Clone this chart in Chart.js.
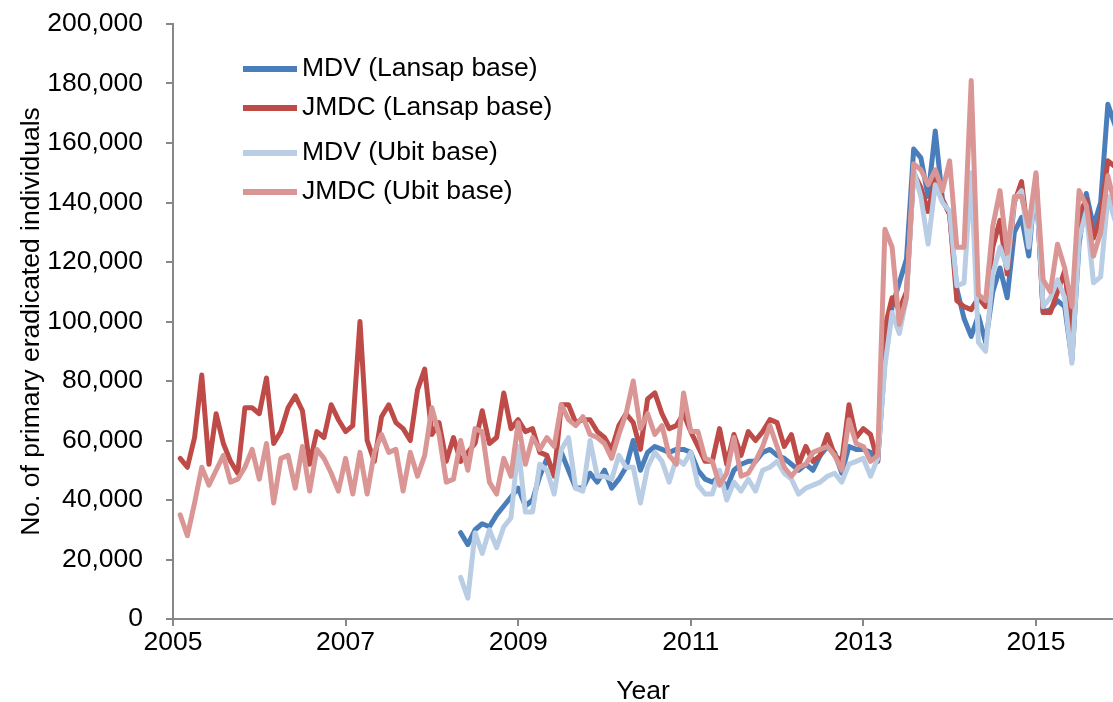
<!DOCTYPE html>
<html>
<head>
<meta charset="utf-8">
<script src="https://cdn.jsdelivr.net/npm/chart.js@4"></script>
<style>
  html, body { margin: 0; padding: 0; background: #fff; }
  canvas { display: block; }
</style>
</head>
<body>
<canvas id="chart" width="1113" height="702"></canvas>
<script>
// monthly counts in thousands, first value = Jan 2005
const jmdcLansap = [
  54, 51, 61, 82, 52, 69, 59, 53, 49, 71, 71, 69,
  81, 59, 63, 71, 75, 70, 52, 63, 61, 72, 67, 63,
  65, 100, 60, 53, 68, 72, 66, 64, 60, 77, 84, 62,
  66, 53, 61, 53, 56, 59, 70, 59, 61, 76, 64, 67,
  63, 64, 56, 55, 48, 72, 72, 66, 67, 67, 63, 61,
  57, 65, 69, 66, 57, 74, 76, 69, 64, 65, 69, 63,
  58, 53, 53, 64, 52, 62, 55, 63, 60, 63, 67, 66,
  58, 62, 52, 58, 53, 55, 62, 55, 53, 72, 61, 64,
  62, 53, 98, 108, 104, 110, 150, 145, 137, 148, 141, 136,
  107, 105, 104, 108, 105, 125, 134, 116, 140, 147, 127, 148,
  103, 103, 110, 117, 96, 136, 141, 128, 135, 154, 152, 150
];
const jmdcUbit = [
  35, 28, 39, 51, 45, 50, 55, 46, 47, 51, 57, 47,
  59, 39, 54, 55, 44, 58, 43, 57, 54, 49, 43, 54,
  42, 56, 42, 56, 62, 56, 57, 43, 56, 48, 55, 71,
  62, 46, 47, 60, 50, 64, 63, 46, 42, 54, 48, 66,
  52, 61, 57, 61, 58, 72, 67, 65, 68, 62, 61, 59,
  54, 62, 69, 80, 64, 69, 62, 65, 55, 52, 76, 63,
  63, 54, 53, 45, 49, 61, 48, 49, 53, 58, 65, 58,
  51, 48, 51, 52, 56, 57, 58, 55, 50, 67, 59, 58,
  53, 55, 131, 125, 99, 108, 153, 151, 146, 151, 144, 154,
  125, 125, 181, 109, 107, 132, 144, 123, 142, 142, 132, 150,
  114, 110, 126, 118, 105, 144, 139, 122, 130, 149, 139, 142
];
// MDV series start in Apr 2008
const mdvStart = 39;
const mdvLansap = [
  29, 25, 30, 32, 31, 35, 38, 41, 44,
  38, 40, 48, 54, 49, 56, 50, 44, 44, 49, 46, 50,
  44, 47, 51, 60, 50, 56, 58, 57, 56, 57, 57, 56,
  50, 47, 46, 48, 44, 50, 52, 53, 53, 56, 57, 55,
  54, 52, 50, 52, 50, 55, 58, 56, 49, 58, 57, 57,
  56, 53, 87, 105, 113, 121, 158, 155, 142, 164, 141, 136,
  111, 101, 95, 102, 93, 110, 118, 108, 130, 135, 122, 149,
  103, 104, 107, 105, 87, 126, 143, 132, 140, 173, 166, 165
];
const mdvUbit = [
  14, 7, 29, 22, 30, 24, 31, 34, 58,
  36, 36, 52, 50, 42, 57, 61, 44, 43, 60, 48, 48,
  47, 55, 51, 51, 39, 51, 56, 53, 46, 54, 52, 56,
  45, 42, 42, 50, 40, 46, 43, 47, 43, 50, 51, 53,
  49, 47, 42, 44, 45, 46, 48, 49, 46, 52, 53, 54,
  48, 54, 85, 103, 96, 108, 151, 142, 126, 146, 140, 137,
  112, 113, 150, 93, 90, 116, 125, 118, 141, 144, 125, 147,
  105, 108, 114, 108, 86, 128, 137, 113, 115, 142, 134, 135
];
const yearTicks = [2005, 2007, 2009, 2011, 2013, 2015];
const seriesNames = ['MDV (Lansap base)', 'JMDC (Lansap base)', 'MDV (Ubit base)', 'JMDC (Ubit base)'];

function toPoints(vals, start) {
  return vals.map((v, i) => ({ x: 2005 + (start + i + 1) / 12, y: v * 1000 }));
}

const FONT = '"Liberation Sans", Arial, sans-serif';
const FSIZE = 26.5;
const AXIS = '#878787';

const insideLegend = {
  id: 'insideLegend',
  afterDraw(chart) {
    const ctx = chart.ctx;
    const rows = [69, 108, 153, 192];
    ctx.save();
    ctx.font = FSIZE + 'px ' + FONT;
    ctx.textBaseline = 'middle';
    chart.data.datasets.forEach((ds, i) => {
      ctx.strokeStyle = ds.borderColor;
      ctx.lineWidth = 6;
      ctx.beginPath();
      ctx.moveTo(243, rows[i]);
      ctx.lineTo(297, rows[i]);
      ctx.stroke();
      ctx.fillStyle = '#000';
      ctx.fillText(ds.label, 302, rows[i]);
    });
    ctx.restore();
  }
};

const line = (label, data, color, order) => ({
  label, data, borderColor: color, backgroundColor: color, order,
  borderWidth: 5, pointRadius: 0, tension: 0,
  borderJoinStyle: 'round', borderCapStyle: 'round', spanGaps: false
});

new Chart(document.getElementById('chart'), {
  type: 'line',
  data: {
    datasets: [
      line(seriesNames[0], toPoints(mdvLansap, mdvStart), '#4a7ebb', 4),
      line(seriesNames[1], toPoints(jmdcLansap, 0), '#be4b48', 3),
      line(seriesNames[2], toPoints(mdvUbit, mdvStart), '#b9cde5', 2),
      line(seriesNames[3], toPoints(jmdcUbit, 0), '#d99694', 1)
    ]
  },
  options: {
    responsive: false,
    devicePixelRatio: 1,
    animation: false,
    layout: { padding: { top: 24, right: 0, bottom: 0, left: 0 } },
    plugins: { legend: { display: false }, tooltip: { enabled: false } },
    scales: {
      x: {
        type: 'linear',
        min: 2005,
        max: 2015.893,
        afterBuildTicks: (s) => { s.ticks = yearTicks.map(v => ({ value: v })); },
        afterFit: (s) => { s.height = 83; },
        ticks: {
          padding: 1,
          color: '#000',
          font: { family: FONT, size: FSIZE },
          callback: (v) => String(v),
          maxRotation: 0,
          autoSkip: false
        },
        grid: { drawOnChartArea: false, drawTicks: true, tickLength: 7, color: AXIS, lineWidth: 2 },
        border: { color: AXIS, width: 2 },
        title: {
          display: true, text: 'Year', color: '#000',
          font: { family: FONT, size: FSIZE, lineHeight: 1 },
          padding: { top: 0, bottom: -3 }
        }
      },
      y: {
        min: 0,
        max: 200000,
        afterFit: (s) => { s.width = 173; s.paddingTop = 0; s.paddingBottom = 0; },
        ticks: {
          stepSize: 20000,
          padding: 23,
          color: '#000',
          font: { family: FONT, size: FSIZE },
          callback: (v) => v.toLocaleString('en-US')
        },
        grid: { drawOnChartArea: false, drawTicks: true, tickLength: 7, color: AXIS, lineWidth: 2 },
        border: { color: AXIS, width: 2 },
        title: {
          display: true, text: 'No. of primary eradicated individuals', color: '#000',
          font: { family: FONT, size: FSIZE, lineHeight: 1.2 },
          padding: { top: 16, bottom: 0 }
        }
      }
    }
  },
  plugins: [insideLegend]
});
</script>
</body>
</html>
